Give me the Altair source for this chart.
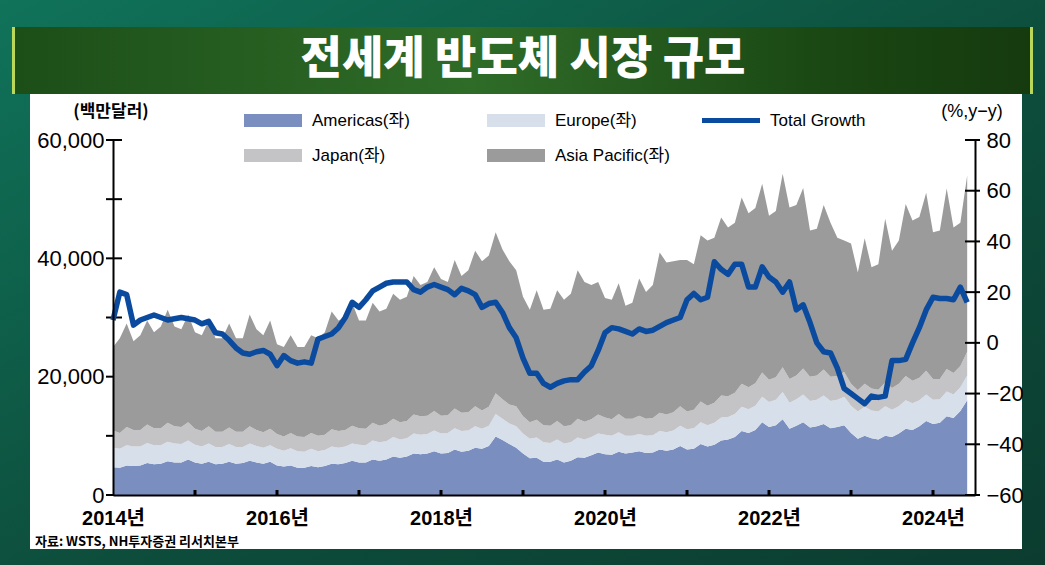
import altair as alt
import pandas as pd

# ---------------- data (monthly, Jan 2014 - Jun 2024), US$ millions ----------------
years = list(range(2014, 2025))
regions = ["Americas", "Europe", "Japan", "Asia Pacific"]

americas = [
    4700, 4600, 5000, 4900, 5000, 5400, 5200, 5300, 5700, 5500, 5500, 6000,
    5500, 5300, 5600, 5200, 5300, 5600, 5300, 5400, 5800, 5500, 5300, 5600,
    5000, 4800, 5000, 4600, 4600, 4900, 4700, 4900, 5300, 5200, 5400, 5800,
    5500, 5500, 6000, 5800, 6000, 6500, 6300, 6500, 7000, 6900, 7000, 7400,
    7000, 7100, 7700, 7300, 7500, 8000, 7800, 8300, 9900, 9300, 8600, 8000,
    7000, 6200, 6300, 5600, 5600, 6000, 5500, 5800, 6400, 6300, 6700, 7200,
    6900, 6800, 7300, 7000, 7200, 7400, 7100, 7200, 7700, 7500, 7700, 8300,
    7700, 7800, 8600, 8200, 8500, 9200, 9400, 9800, 10800, 10500, 11000, 12300,
    11500, 11800, 12800, 11200, 11700, 12300, 11400, 11600, 12000, 11300, 11500, 11800,
    10500, 9500, 10000, 9600, 9400, 10000, 9800, 10400, 11200, 11000, 11600, 12500,
    12000, 12200, 13300, 13000, 14200, 16000,
]
europe = [
    3300, 3200, 3400, 3300, 3200, 3400, 3200, 3100, 3300, 3200, 3100, 3200,
    3000, 2900, 3100, 2900, 2800, 3000, 2800, 2700, 2900, 2800, 2700, 2800,
    2800, 2700, 2900, 2800, 2700, 2900, 2700, 2700, 2900, 2800, 2800, 2900,
    3000, 2900, 3200, 3100, 3100, 3300, 3100, 3100, 3400, 3300, 3300, 3500,
    3400, 3400, 3600, 3500, 3400, 3600, 3400, 3400, 3800, 3600, 3500, 3600,
    3400, 3300, 3400, 3300, 3200, 3400, 3200, 3100, 3300, 3100, 3100, 3200,
    3300, 3200, 3300, 3000, 2800, 2900, 2900, 2900, 3100, 3100, 3200, 3400,
    3400, 3500, 3700, 3600, 3700, 3900, 3800, 3900, 4100, 4000, 4100, 4300,
    4200, 4300, 4600, 4400, 4500, 4700, 4500, 4500, 4800, 4600, 4600, 4800,
    4600, 4600, 4900, 4700, 4700, 5000, 4600, 4600, 4800, 4500, 4400, 4500,
    4100, 4000, 4200, 4000, 4000, 4200,
]
japan = [
    2900, 2700, 3100, 2800, 2800, 3100, 2900, 2900, 3200, 2900, 2900, 3100,
    2700, 2600, 2900, 2600, 2600, 2800, 2600, 2600, 2900, 2700, 2600, 2800,
    2500, 2400, 2600, 2500, 2500, 2700, 2600, 2600, 2900, 2800, 2800, 3000,
    2800, 2800, 3000, 2800, 2900, 3100, 2900, 2900, 3200, 3100, 3100, 3300,
    3000, 3000, 3300, 3100, 3100, 3400, 3100, 3200, 3500, 3300, 3200, 3400,
    2900, 2800, 3000, 2900, 2900, 3100, 2900, 2900, 3200, 3000, 3000, 3200,
    2900, 2800, 3100, 2900, 2900, 3100, 2900, 2900, 3100, 3000, 3100, 3300,
    3000, 3100, 3500, 3300, 3400, 3700, 3500, 3600, 3900, 3700, 3800, 4100,
    3800, 3800, 4200, 4000, 4000, 4400, 4100, 4100, 4400, 4100, 4000, 4200,
    3700, 3600, 3900, 3700, 3700, 4000, 3700, 3800, 4100, 3800, 3800, 4000,
    3500, 3400, 3800, 3600, 3600, 4000,
]
asia_pacific = [
    14100, 16000, 17500, 15000, 16000, 17600, 16200, 17200, 19100, 16900, 16500, 18200,
    16300, 16200, 17900, 15800, 15800, 17600, 15800, 15800, 18900, 17000, 16400, 18300,
    15200, 15100, 16500, 15100, 15200, 16500, 16500, 17300, 19900, 18700, 19000, 20800,
    18200, 18300, 20300, 19300, 19500, 21100, 20700, 21000, 23400, 22200, 22600, 24300,
    23100, 22500, 25100, 23100, 24000, 26300, 25200, 25600, 27200, 25300, 24200, 23000,
    20200, 19000, 21900, 19500, 19800, 22100, 21400, 22200, 25100, 23600, 22700, 22400,
    20200, 20200, 22100, 19100, 19600, 23200, 21400, 22500, 27100, 25700, 25500, 24700,
    25600, 24600, 28100, 27900, 27900, 30100, 28500, 28700, 31500, 29400, 29600, 31900,
    27700, 28100, 32700, 29000, 28800, 30500, 24700, 24800, 27800, 26000, 23400, 22200,
    23700, 19900, 24600, 20500, 21200, 27700, 23200, 24200, 29100, 27100, 27200, 30100,
    24800, 25100, 30500, 24600, 24200, 29800,
]
total_growth = [
    9, 20, 19, 7, 9, 10, 11, 10, 9, 9.5, 10, 9.5,
    9, 7.5, 8.5, 4, 3.5, 1, -2, -4, -4.5, -3.5, -3, -4.5,
    -9, -5, -7, -8, -7.5, -8, 1.5, 2.5, 3.5, 6, 10, 16,
    14, 17, 20.5, 22, 23.5, 24, 24, 24, 21, 20, 22, 23,
    22, 21, 19, 21.5, 20.5, 19, 14, 15.5, 16, 12, 6, 2,
    -6, -12, -12, -16, -17.5, -16, -15, -14.5, -14.5, -11.5, -9, -3,
    4, 6, 5.5, 4.5, 3.5, 5.5, 4.5, 5, 6.5, 8, 9, 10,
    17, 19.5, 17, 18, 32, 29, 27, 31, 31, 22, 22, 30,
    26, 24, 20, 24, 13, 15, 8, 0, -3.5, -4, -10, -18,
    -20, -22, -24, -21, -21.5, -21, -7, -7, -6.5, 0, 6, 13,
    18, 17.5, 17.5, 17, 22, 16,
]

left_ticks = [0, 10000, 20000, 30000, 40000, 50000, 60000]
left_labels = [0, 20000, 40000, 60000]
right_ticks = [-60, -40, -20, 0, 20, 40, 60, 80]

colors = ["#7b8ec0", "#d6dfea", "#c4c4c6", "#9b9b9b"]
line_color = "#0b4b9f"

# ---------------- tables ----------------
months = []
for y in years:
    for m in range(12):
        months.append((y, m))
months = months[: len(americas)]
pos = [y + m / 12 for (y, m) in months]

series = [americas, europe, japan, asia_pacific]
rows = []
for k, (name, vals) in enumerate(zip(regions, series)):
    for p, v in zip(pos, vals):
        rows.append({"t": p, "region": name, "ord": k, "value": v})
area_df = pd.DataFrame(rows)
line_df = pd.DataFrame({"t": pos, "growth": total_growth})

W, H = 862, 355
FONT = "Liberation Sans, Arial, sans-serif"
KFONT = "Liberation Sans, Noto Sans CJK KR, sans-serif"

xscale = alt.Scale(domain=[2014, 2024.512], nice=False, zero=False)
lscale = alt.Scale(domain=[0, 60000], nice=False)
rscale = alt.Scale(domain=[-60, 80], nice=False)

one = alt.Data(values=[{"a": 1}])


def rect(x, x2, y, y2, color):
    return alt.Chart(one).mark_rect(color=color).encode(
        x=alt.value(x), x2=alt.value(x2), y=alt.value(y), y2=alt.value(y2)
    )


def label(text, x, y, size, font=KFONT, weight="normal", color="black", align="left"):
    return alt.Chart(one).mark_text(
        text=text, fontSize=size, font=font, fontWeight=weight, color=color,
        align=align, baseline="middle"
    ).encode(x=alt.value(x), y=alt.value(y))


# background
bg = alt.Chart(one).mark_rect(
    color=alt.LinearGradient(
        gradient="linear",
        stops=[alt.GradientStop(color="#10735a", offset=0),
               alt.GradientStop(color="#0d4d3b", offset=0.55),
               alt.GradientStop(color="#0b3c2f", offset=1)],
        x1=0, x2=1, y1=0, y2=1,
    )
).encode(x=alt.value(-113), x2=alt.value(932), y=alt.value(-140), y2=alt.value(425))

panel = rect(-83, 909, -46, 409, "white")

banner = alt.Chart(one).mark_rect(
    color=alt.LinearGradient(
        gradient="linear",
        stops=[alt.GradientStop(color="#1c4e18", offset=0),
               alt.GradientStop(color="#2f6c28", offset=0.45),
               alt.GradientStop(color="#1a4713", offset=0.8),
               alt.GradientStop(color="#153a0e", offset=1)],
        x1=0, x2=1, y1=0, y2=0,
    )
).encode(x=alt.value(-101), x2=alt.value(920), y=alt.value(-113), y2=alt.value(-46))
edge_l = rect(-101, -98, -113, -46, "#b9d85a")
edge_r = rect(917, 920, -113, -46, "#b9d85a")

title = label("전세계 반도체 시장 규모", 410, -80, 45, font="Noto Sans CJK KR",
              weight=900, color="white", align="center")

unit_l = label("(백만달러)", -2, -28, 17, font="Noto Sans CJK KR", weight="bold", align="center")
unit_r = label("(%,y−y)", 859, -28, 18, font="Liberation Sans", align="center")
source = label("자료: WSTS, NH투자증권 리서치본부", -78, 402, 13,
               font="Noto Sans CJK KR", weight="bold")

# legend
leg = []
leg_items = [("Americas(좌)", colors[0], 131, -19), ("Europe(좌)", colors[1], 374, -19),
             ("Japan(좌)", colors[2], 131, 16), ("Asia Pacific(좌)", colors[3], 374, 16)]
for txt, c, lx, ly in leg_items:
    leg.append(rect(lx, lx + 58, ly - 7, ly + 6, c))
    leg.append(label(txt, lx + 68, ly, 17))
leg.append(rect(589, 647, -22, -17, line_color))
leg.append(label("Total Growth", 657, -19, 17))

# ticks drawn through scales
lt = alt.Chart(pd.DataFrame({"v": left_ticks})).mark_rule(color="black", strokeWidth=2).encode(
    y=alt.Y("v:Q", scale=lscale, axis=None), x=alt.value(-7), x2=alt.value(9)
)
rt = alt.Chart(pd.DataFrame({"v": right_ticks})).mark_rule(color="black", strokeWidth=2).encode(
    y=alt.Y("v:Q", scale=rscale, axis=None), x=alt.value(852), x2=alt.value(867)
)
xt = alt.Chart(pd.DataFrame({"yr": years[1:]})).mark_rule(color="black", strokeWidth=3).encode(
    x=alt.X("yr:Q", scale=xscale, axis=None), y=alt.value(350), y2=alt.value(355)
)

areas = alt.Chart(area_df).mark_area(interpolate="linear").encode(
    x=alt.X("t:Q", scale=xscale, axis=None),
    y=alt.Y("value:Q", stack="zero", scale=lscale, axis=None),
    color=alt.Color("region:N", scale=alt.Scale(domain=regions, range=colors), legend=None),
    order=alt.Order("ord:Q", sort="ascending"),
)
line = alt.Chart(line_df).mark_line(color=line_color, strokeWidth=5.5, strokeJoin="round").encode(
    x=alt.X("t:Q", scale=xscale, axis=None),
    y=alt.Y("growth:Q", scale=rscale, axis=None),
)

# axes-only layers (transparent rules) placed on top so axes draw above the backdrop
ax_left = alt.Chart(pd.DataFrame({"v": left_ticks})).mark_rule(opacity=0).encode(
    y=alt.Y("v:Q", scale=lscale,
            axis=alt.Axis(values=left_labels, format=",d", title=None,
                          ticks=False, grid=False, labelFontSize=22, labelFont=FONT,
                          labelColor="black", labelPadding=9, domainColor="black",
                          domainWidth=2, orient="left", zindex=2)),
    x=alt.value(0), x2=alt.value(1),
)
ax_right = alt.Chart(pd.DataFrame({"v": right_ticks})).mark_rule(opacity=0).encode(
    y=alt.Y("v:Q", scale=rscale,
            axis=alt.Axis(values=right_ticks, format="d", title=None, ticks=False, grid=False,
                          labelFontSize=22, labelFont=FONT, labelColor="black",
                          labelPadding=11, domainColor="black", domainWidth=2,
                          orient="right", zindex=2)),
    x=alt.value(0), x2=alt.value(1),
)
ax_bottom = alt.Chart(pd.DataFrame({"yr": years})).mark_rule(opacity=0).encode(
    x=alt.X("yr:Q", scale=xscale,
            axis=alt.Axis(values=years, title=None, ticks=False, grid=False,
                          labelExpr="datum.value % 2 == 0 ? datum.value + '년' : ''",
                          labelFontSize=20, labelFontWeight="bold", labelFont=KFONT,
                          labelColor="black", labelPadding=13, domainColor="black",
                          domainWidth=2, labelFlush=False, labelOverlap=False,
                          orient="bottom", zindex=2)),
    y=alt.value(0), y2=alt.value(1),
)

chart = alt.layer(
    bg, panel, banner, edge_l, edge_r, title, unit_l, unit_r, source, *leg,
    lt, areas, rt, line, xt, ax_left, ax_right, ax_bottom,
).resolve_scale(y="independent", x="independent").properties(
    width=W, height=H,
    autosize=alt.AutoSizeParams(type="none"),
    padding={"left": 113, "top": 140, "right": 70, "bottom": 70},
    background="#0d4d3b",
).configure_view(stroke=None)

chart.save("out.html", embed_options={"renderer": "svg", "actions": False})
